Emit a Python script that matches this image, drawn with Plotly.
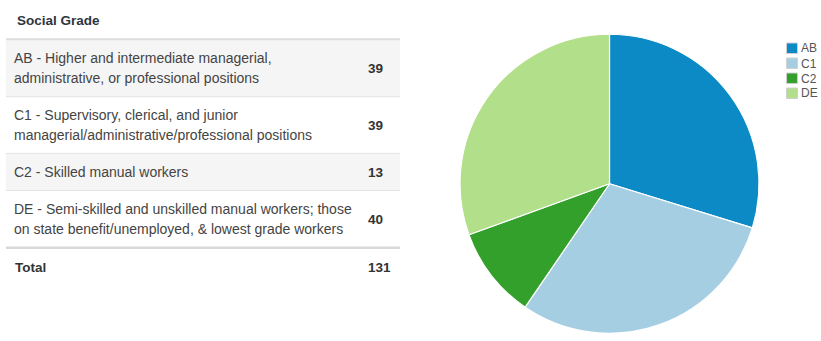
import plotly.graph_objects as go

# ---- data ----
codes = ["AB", "C1", "C2", "DE"]
descriptions = [
    "AB - Higher and intermediate managerial,|administrative, or professional positions",
    "C1 - Supervisory, clerical, and junior|managerial/administrative/professional positions",
    "C2 - Skilled manual workers",
    "DE - Semi-skilled and unskilled manual workers; those|on state benefit/unemployed, & lowest grade workers",
]
counts = [39, 39, 13, 40]
header_title = "Social Grade"
total_label = "Total"
colors = ["#0b8ac6", "#a6cee3", "#33a02c", "#b2df8a"]

W, H = 821, 341
FAM = "Liberation Sans, Arial, sans-serif"


def px(x):
    return x / W


def py(y):
    return 1 - y / H


fig = go.Figure()

fig.add_trace(go.Pie(
    labels=codes,
    values=counts,
    sort=False,
    direction="clockwise",
    rotation=0,
    textinfo="none",
    hoverinfo="label+value+percent",
    marker=dict(colors=colors, line=dict(color="white", width=1.2)),
    domain=dict(x=[px(460), px(759)], y=[py(333.5), py(34)]),
    showlegend=False,
))

shapes = []
annotations = []

font_txt = dict(family=FAM, size=14, color="#444444")
font_bold = dict(family=FAM, size=13.5, color="#333333")

# header
annotations.append(dict(x=px(14.5), y=py(20.5), xref="paper", yref="paper",
                        text="<b>" + header_title + "</b>", showarrow=False,
                        xanchor="left", yanchor="middle",
                        font=dict(family=FAM, size=13.5, color="#2d3540")))

# rows layout (pixel bounds)
row_bounds = [(40, 96.5), (97, 153), (154, 190), (191, 247)]
row_bg = ["#f5f5f5", "#ffffff", "#f5f5f5", "#ffffff"]
LINE_H = 20

for i, (desc, n) in enumerate(zip(descriptions, counts)):
    y0, y1 = row_bounds[i]
    shapes.append(dict(type="rect", xref="paper", yref="paper",
                       x0=px(6), x1=px(400), y0=py(y1), y1=py(y0),
                       fillcolor=row_bg[i], line=dict(width=0), layer="below"))
    lines = desc.split("|")
    yc = (y0 + y1) / 2
    start = yc - (len(lines) - 1) * LINE_H / 2
    for k, ln in enumerate(lines):
        annotations.append(dict(x=px(12), y=py(start + k * LINE_H), xref="paper", yref="paper",
                                text=ln, showarrow=False, xanchor="left", yanchor="middle",
                                font=font_txt))
    annotations.append(dict(x=px(365.5), y=py(yc), xref="paper", yref="paper",
                            text="<b>%d</b>" % n, showarrow=False, xanchor="left", yanchor="middle",
                            font=font_bold))

# separators
seps = [(39.2, 2, "#dddddd"), (96.7, 1, "#e3e3e3"), (153.4, 1, "#e3e3e3"),
        (190.5, 1, "#e3e3e3"), (247.8, 2.5, "#d9d9d9")]
for yy, w, c in seps:
    shapes.append(dict(type="line", xref="paper", yref="paper",
                       x0=px(6), x1=px(400), y0=py(yy), y1=py(yy),
                       line=dict(color=c, width=w)))

# total row
annotations.append(dict(x=px(13), y=py(267), xref="paper", yref="paper",
                        text="<b>" + total_label + "</b>", showarrow=False,
                        xanchor="left", yanchor="middle", font=font_bold))
annotations.append(dict(x=px(366), y=py(267), xref="paper", yref="paper",
                        text="<b>%d</b>" % sum(counts), showarrow=False,
                        xanchor="left", yanchor="middle", font=font_bold))

# custom legend
leg_top = 43
leg_step = 15
for i, (code, c) in enumerate(zip(codes, colors)):
    y0 = leg_top + i * leg_step
    shapes.append(dict(type="rect", xref="paper", yref="paper",
                       x0=px(786.5), x1=px(797.5), y0=py(y0 + 10.5), y1=py(y0),
                       fillcolor=c, line=dict(color="#d0d0d0", width=1)))
    annotations.append(dict(x=px(799), y=py(y0 + 5.5), xref="paper", yref="paper",
                            text=code, showarrow=False, xanchor="left", yanchor="middle",
                            font=dict(family=FAM, size=12, color="#555555")))

fig.update_layout(
    width=W, height=H,
    margin=dict(l=0, r=0, t=0, b=0),
    paper_bgcolor="white",
    plot_bgcolor="white",
    shapes=shapes,
    annotations=annotations,
    showlegend=False,
)

fig.write_html("out.html")
